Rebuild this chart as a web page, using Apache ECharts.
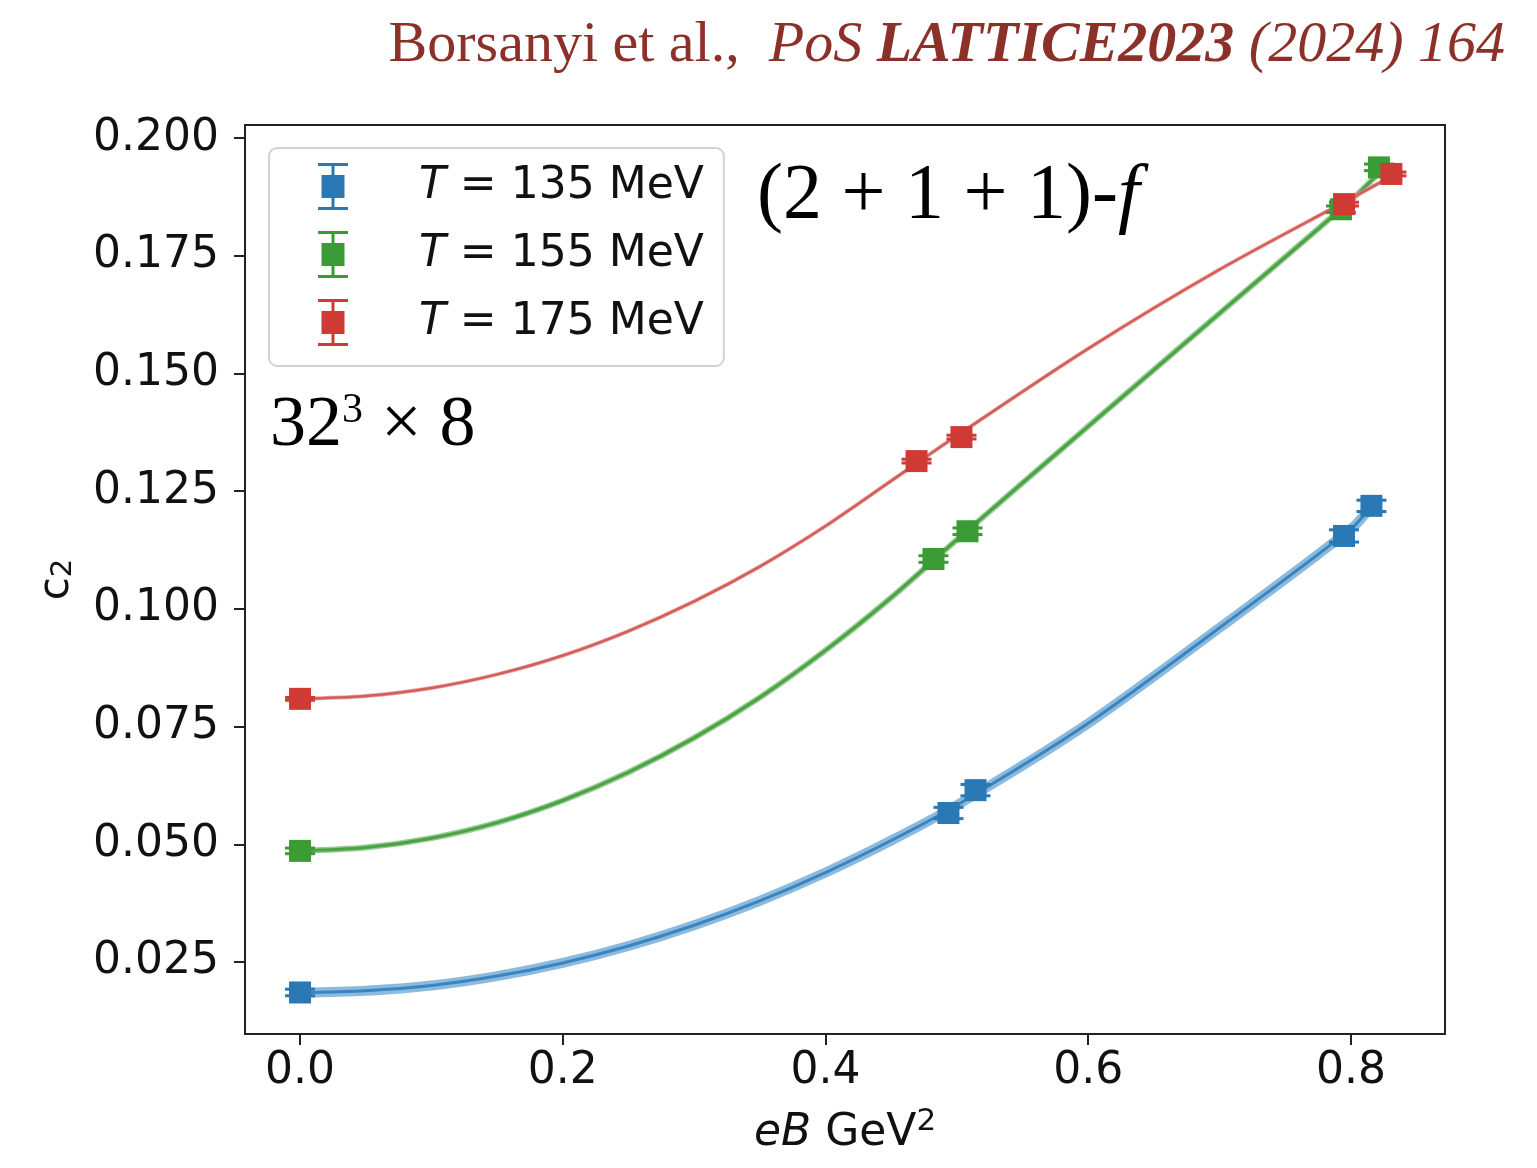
<!DOCTYPE html>
<html>
<head>
<meta charset="utf-8">
<script src="https://cdn.jsdelivr.net/npm/echarts@6/dist/echarts.min.js"></script>
<style>
  html, body { margin: 0; padding: 0; background: #ffffff; }
  #chart { width: 1537px; height: 1168px; }
</style>
</head>
<body>
<div id="chart"></div>
<script>
// Second-order fluctuation c2 versus magnetic field eB (GeV^2) on 32^3 x 8 lattices

// measured points: eB, c2 and its error, one set per temperature
const eB_135 = [0.0, 0.4936, 0.5142, 0.7947, 0.8156];
const c2_135 = [0.01852, 0.05665, 0.0615, 0.1155, 0.1219];
const err_135 = [0.0007, 0.0012, 0.0012, 0.0013, 0.0012];

const eB_155 = [0.0, 0.4822, 0.5081, 0.7924, 0.8213];
const c2_155 = [0.0486, 0.1106, 0.1165, 0.1849, 0.1938];
const err_155 = [0.0006, 0.0007, 0.0007, 0.0007, 0.0007];

const eB_175 = [0.0, 0.4693, 0.5035, 0.7947, 0.8308];
const c2_175 = [0.0809, 0.1314, 0.1365, 0.1860, 0.1924];
const err_175 = [0.0003, 0.0004, 0.0004, 0.0004, 0.0004];

// fitted curves
const fitX_135 = [0.0, 0.05, 0.1, 0.15, 0.2, 0.25, 0.3, 0.35, 0.4, 0.45, 0.5, 0.6, 0.7, 0.8, 0.8156];
const fitC_135 = [0.0185, 0.0189, 0.0200, 0.0220, 0.0248, 0.0284, 0.0328, 0.0380, 0.0440, 0.0508, 0.0583, 0.0757, 0.0960, 0.1170, 0.1218];

const fitX_155 = [0.0, 0.05, 0.1, 0.15, 0.2, 0.25, 0.3, 0.35, 0.4, 0.45, 0.5, 0.6, 0.7, 0.8, 0.8213];
const fitC_155 = [0.0486, 0.0493, 0.0513, 0.0546, 0.0593, 0.0653, 0.0726, 0.0812, 0.0912, 0.1024, 0.1147, 0.1388, 0.1628, 0.1868, 0.1926];

const fitX_175 = [0.0, 0.05, 0.1, 0.15, 0.2, 0.25, 0.3, 0.35, 0.4, 0.45, 0.5, 0.6, 0.7, 0.8, 0.8308];
const fitC_175 = [0.0809, 0.0815, 0.0832, 0.0861, 0.0901, 0.0953, 0.1016, 0.1090, 0.1176, 0.1272, 0.1368, 0.1553, 0.1721, 0.1872, 0.1919];

// axis ticks
const xTicks = [0.0, 0.2, 0.4, 0.6, 0.8];
const yTicks = [0.025, 0.050, 0.075, 0.100, 0.125, 0.150, 0.175, 0.200];

const temps = ['135 MeV', '155 MeV', '175 MeV'];

const COLORS = { blue: '#2a78b4', green: '#3b9b35', red: '#cf3a34' };
const SANS = 'DejaVu Sans';
const SERIF = 'Liberation Serif';
const INK = '#111111';
const CITE = '#8c3129';

// errorbar glyph for the legend: caps, stem and square marker
const ERRBAR_ICON = 'path://M0,0H30V3H0Z M13.5,3H16.5V12H13.5Z M3.5,12H26.5V35H3.5Z M13.5,35H16.5V44H13.5Z M0,44H30V47H0Z';

function pairs(xs, ys) { return xs.map((x, i) => [x, ys[i]]); }

function bandSeries(xs, ys, color, width, opacity) {
  return {
    type: 'line', data: pairs(xs, ys), smooth: 0.3, showSymbol: false, silent: true,
    lineStyle: { color: color, width: width, opacity: opacity, cap: 'round' }, z: 1
  };
}

function errorSeries(xs, ys, es, color) {
  return {
    type: 'custom', silent: true, z: 3,
    data: xs.map((x, i) => [x, ys[i] - es[i], ys[i] + es[i]]),
    encode: { x: 0, y: [1, 2] },
    renderItem: function (params, api) {
      const lo = api.coord([api.value(0), api.value(1)]);
      const hi = api.coord([api.value(0), api.value(2)]);
      const hw = 15;
      const st = { stroke: color, lineWidth: 3 };
      return {
        type: 'group',
        children: [
          { type: 'line', shape: { x1: lo[0], y1: lo[1], x2: hi[0], y2: hi[1] }, style: st },
          { type: 'line', shape: { x1: lo[0] - hw, y1: lo[1], x2: lo[0] + hw, y2: lo[1] }, style: st },
          { type: 'line', shape: { x1: hi[0] - hw, y1: hi[1], x2: hi[0] + hw, y2: hi[1] }, style: st }
        ]
      };
    }
  };
}

function markerSeries(name, xs, ys, color) {
  return {
    type: 'scatter', name: name, data: pairs(xs, ys),
    symbol: 'rect', symbolSize: 22, z: 4, silent: true,
    itemStyle: { color: color, opacity: 1 }
  };
}

const chart = echarts.init(document.getElementById('chart'), null, { renderer: 'canvas' });

const option = {
  backgroundColor: '#ffffff',
  animation: false,
  grid: {
    left: 245, top: 125, right: 92, bottom: 134,
    show: true, borderColor: '#222222', borderWidth: 2, backgroundColor: 'transparent'
  },
  xAxis: {
    type: 'value', min: -0.0419, max: 0.8716,
    axisLine: { show: true, onZero: false, lineStyle: { color: '#222222', width: 2 } },
    axisTick: { show: true, length: 11, customValues: xTicks, lineStyle: { color: '#222222', width: 2 } },
    axisLabel: {
      customValues: xTicks, formatter: v => v.toFixed(1),
      fontFamily: SANS, fontSize: 44, color: INK, margin: 16
    },
    splitLine: { show: false },
    name: '{i|eB} {n|GeV}{s|2}',
    nameLocation: 'middle', nameGap: 72,
    nameTextStyle: {
      fontFamily: SANS, fontSize: 44, color: INK, lineHeight: 56,
      rich: {
        i: { fontFamily: SANS, fontStyle: 'italic', fontSize: 44, color: INK, lineHeight: 56 },
        n: { fontFamily: SANS, fontSize: 44, color: INK, lineHeight: 56 },
        s: { fontFamily: SANS, fontSize: 31, color: INK, lineHeight: 30, verticalAlign: 'top' }
      }
    }
  },
  yAxis: {
    type: 'value', min: 0.0097, max: 0.2028,
    axisLine: { show: true, onZero: false, lineStyle: { color: '#222222', width: 2 } },
    axisTick: { show: true, length: 11, customValues: yTicks, lineStyle: { color: '#222222', width: 2 } },
    axisLabel: {
      customValues: yTicks, formatter: v => v.toFixed(3),
      fontFamily: SANS, fontSize: 44, color: INK, margin: 26
    },
    splitLine: { show: false },
    name: '{c|c}{s|2}',
    nameLocation: 'middle', nameGap: 167, nameRotate: 90,
    nameTextStyle: {
      fontFamily: SANS, fontSize: 42, color: INK,
      rich: {
        c: { fontFamily: SANS, fontSize: 42, color: INK, lineHeight: 42 },
        s: { fontFamily: SANS, fontSize: 29, color: INK, lineHeight: 29, verticalAlign: 'bottom' }
      }
    }
  },
  legend: {
    left: 269, top: 148, orient: 'vertical',
    data: temps.map(t => ({ name: t, icon: ERRBAR_ICON })),
    itemWidth: 30, itemHeight: 47, itemGap: 21,
    padding: [15, 20, 20, 49],
    backgroundColor: 'rgba(255,255,255,0.85)',
    borderColor: '#d2d2d2', borderWidth: 2, borderRadius: 8,
    selectedMode: false,
    formatter: name => '{it|T}{n| = ' + name + '}',
    textStyle: {
      fontFamily: SANS, fontSize: 44, color: INK,
      rich: {
        it: { fontFamily: SANS, fontStyle: 'italic', fontSize: 44, color: INK, lineHeight: 50, padding: [0, 0, 0, 66] },
        n: { fontFamily: SANS, fontSize: 44, color: INK, lineHeight: 50 }
      }
    }
  },
  graphic: [
    {
      type: 'text', right: 32, top: 17, silent: true,
      style: {
        text: '{a|Borsanyi et al.,  }{b|PoS }{c|LATTICE2023}{b| (2024) 164}',
        fill: CITE,
        rich: {
          a: { fontFamily: SERIF, fontSize: 58, fill: CITE, lineHeight: 58 },
          b: { fontFamily: SERIF, fontStyle: 'italic', fontSize: 58, fill: CITE, lineHeight: 58 },
          c: { fontFamily: SERIF, fontStyle: 'italic', fontWeight: 'bold', fontSize: 58, fill: CITE, lineHeight: 58 }
        }
      }
    },
    {
      type: 'text', left: 757, top: 158, silent: true, z: 10,
      style: {
        text: '{n|(2 + 1 + 1)-}{f|f}',
        fill: '#000000',
        rich: {
          n: { fontFamily: SERIF, fontSize: 78, fill: '#000000', lineHeight: 78 },
          f: { fontFamily: SERIF, fontStyle: 'italic', fontSize: 78, fill: '#000000', lineHeight: 78 }
        }
      }
    },
    {
      type: 'text', left: 270, top: 390, silent: true, z: 10,
      style: {
        text: '{n|32}{s|3}{n| × 8}',
        fill: '#000000',
        rich: {
          n: { fontFamily: SERIF, fontSize: 72, fill: '#000000', lineHeight: 72 },
          s: { fontFamily: SERIF, fontSize: 42, fill: '#000000', lineHeight: 42, verticalAlign: 'top' }
        }
      }
    }
  ],
  series: [
    // fit bands and central lines
    bandSeries(fitX_135, fitC_135, '#80b2da', 10, 0.9),
    bandSeries(fitX_135, fitC_135, '#3a84bf', 3, 1),
    bandSeries(fitX_155, fitC_155, '#8cc486', 6, 0.9),
    bandSeries(fitX_155, fitC_155, '#4aa342', 3, 1),
    bandSeries(fitX_175, fitC_175, '#e8a09c', 4, 0.9),
    bandSeries(fitX_175, fitC_175, '#d45e59', 2.5, 1),
    // error bars
    errorSeries(eB_135, c2_135, err_135, COLORS.blue),
    errorSeries(eB_155, c2_155, err_155, COLORS.green),
    errorSeries(eB_175, c2_175, err_175, COLORS.red),
    // data markers
    markerSeries(temps[0], eB_135, c2_135, COLORS.blue),
    markerSeries(temps[1], eB_155, c2_155, COLORS.green),
    markerSeries(temps[2], eB_175, c2_175, COLORS.red)
  ]
};

chart.setOption(option);
</script>
</body>
</html>
